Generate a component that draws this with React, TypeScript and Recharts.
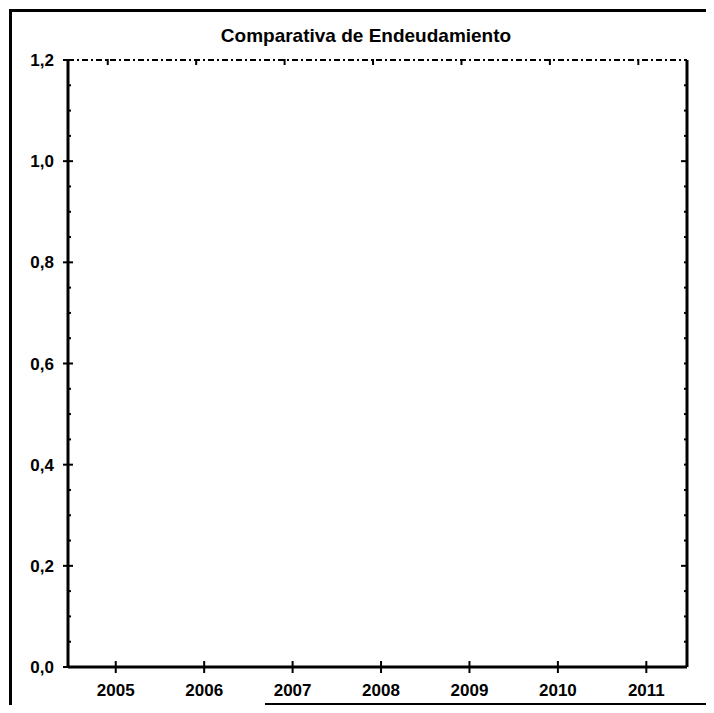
import { Line, LineChart, XAxis, YAxis } from "recharts";

// categorias (anos) do eixo X
const years = [2005, 2006, 2007, 2008, 2009, 2010, 2011];
// serie vazia: o grafico original nao tem valores desenhados
const endividamento: (number | null)[] = [null, null, null, null, null, null, null];
// marcas do eixo Y
const yMajorTicks = [0, 0.2, 0.4, 0.6, 0.8, 1.0, 1.2];
const yMinorTicks = [
  0.05, 0.1, 0.15, 0.25, 0.3, 0.35, 0.45, 0.5, 0.55, 0.65, 0.7, 0.75, 0.85, 0.9, 0.95, 1.05,
  1.1, 1.15,
];

const data = years.map((year, i) => ({ year, value: endividamento[i] }));
const allYTicks = [...yMajorTicks, ...yMinorTicks].sort((a, b) => a - b);

const FONT = "'Liberation Sans', Arial, Helvetica, sans-serif";
const X_DOMAIN: [number, number] = [2004.46, 2011.46];

const isMajor = (v: number) => yMajorTicks.some((m) => Math.abs(m - v) < 1e-6);

function BottomTick(props: any) {
  const { x, y, payload } = props;
  return (
    <g>
      <line x1={x} x2={x} y1={y - 6} y2={y + 6} stroke="#000" strokeWidth={2} />
      <text
        x={x}
        y={y + 29}
        textAnchor="middle"
        fontFamily={FONT}
        fontWeight="bold"
        fontSize={17}
        fill="#000"
      >
        {payload.value}
      </text>
    </g>
  );
}

function TopTick(props: any) {
  const { x, y } = props;
  return <line x1={x - 8} x2={x - 8} y1={y - 1} y2={y + 5} stroke="#000" strokeWidth={2} />;
}

function LeftTick(props: any) {
  const { x, y, payload } = props;
  const v = payload.value as number;
  if (!isMajor(v)) {
    return <line x1={x} x2={x + 3} y1={y} y2={y} stroke="#000" strokeWidth={2} />;
  }
  return (
    <g>
      <line x1={x - 5} x2={x + 5} y1={y} y2={y} stroke="#000" strokeWidth={2} />
      <text
        x={x - 14}
        y={y + 6}
        textAnchor="end"
        fontFamily={FONT}
        fontWeight="bold"
        fontSize={17}
        fill="#000"
      >
        {v.toFixed(1).replace(".", ",")}
      </text>
    </g>
  );
}

function RightTick(props: any) {
  const { x, y, payload } = props;
  const v = payload.value as number;
  const len = Math.abs(v - 1.0) < 1e-6 || Math.abs(v - 0.2) < 1e-6 ? 6 : 3;
  return <line x1={x - len} x2={x} y1={y} y2={y} stroke="#000" strokeWidth={2} />;
}

export default function App() {
  return (
    <div style={{ position: "relative", width: 714, height: 713, margin: -8, background: "#fff" }}>
      <div
        style={{
          position: "absolute",
          left: 0,
          top: 25,
          width: 732,
          textAlign: "center",
          fontFamily: FONT,
          fontWeight: "bold",
          fontSize: 19,
          color: "#000",
        }}
      >
        Comparativa de Endeudamiento
      </div>

      <div style={{ position: "absolute", left: 0, top: 0 }}>
        <LineChart width={714} height={713} data={data} margin={{ top: 50, right: 17, bottom: 6, left: 0 }}>
          <XAxis
            xAxisId="bottom"
            type="number"
            dataKey="year"
            domain={X_DOMAIN}
            allowDataOverflow
            ticks={years}
            interval={0}
            height={40}
            tickSize={0}
            tickMargin={0}
            tickLine={false}
            axisLine={{ stroke: "#000", strokeWidth: 3 }}
            tick={<BottomTick />}
          />
          <XAxis
            xAxisId="top"
            orientation="top"
            type="number"
            dataKey="year"
            domain={X_DOMAIN}
            allowDataOverflow
            ticks={years}
            interval={0}
            height={10}
            tickSize={0}
            tickMargin={0}
            tickLine={false}
            axisLine={{ stroke: "#000", strokeWidth: 2, strokeDasharray: "6 3 2 3" }}
            tick={<TopTick />}
          />
          <YAxis
            yAxisId="left"
            type="number"
            domain={[0, 1.2]}
            allowDataOverflow
            ticks={allYTicks}
            interval={0}
            width={68}
            tickSize={0}
            tickMargin={0}
            tickLine={false}
            axisLine={{ stroke: "#000", strokeWidth: 3 }}
            tick={<LeftTick />}
          />
          <YAxis
            yAxisId="right"
            orientation="right"
            type="number"
            domain={[0, 1.2]}
            allowDataOverflow
            ticks={allYTicks}
            interval={0}
            width={10}
            tickSize={0}
            tickMargin={0}
            tickLine={false}
            axisLine={{ stroke: "#000", strokeWidth: 3 }}
            tick={<RightTick />}
          />
          <Line
            xAxisId="bottom"
            yAxisId="left"
            dataKey="value"
            stroke="#000"
            dot={false}
            isAnimationActive={false}
          />
        </LineChart>
      </div>

      {/* moldura digitalizada */}
      <div style={{ position: "absolute", left: 9, top: 9, width: 705, height: 3, background: "#000" }} />
      <div style={{ position: "absolute", left: 9, top: 9, width: 3, height: 704, background: "#000" }} />
      <div style={{ position: "absolute", left: 265, top: 703, width: 449, height: 2, background: "#000" }} />
    </div>
  );
}
